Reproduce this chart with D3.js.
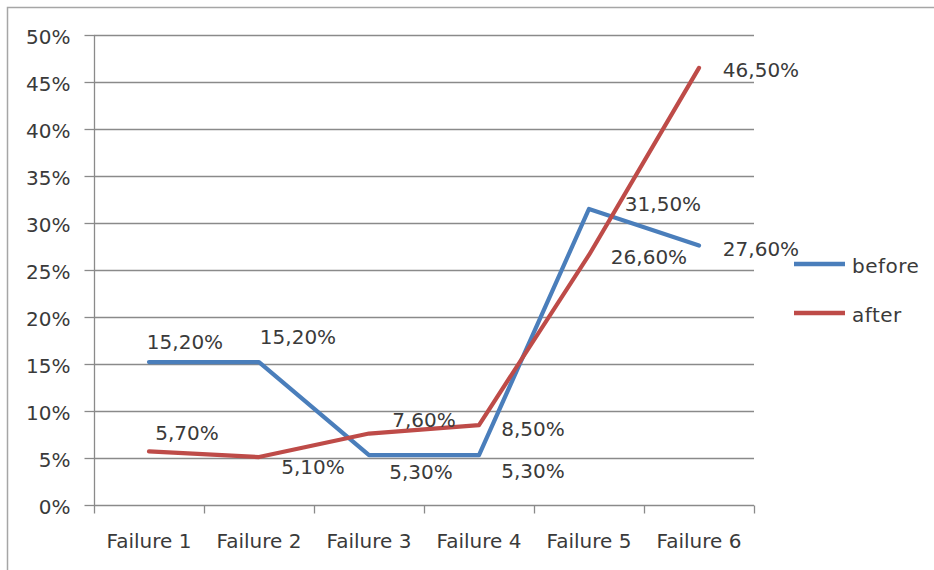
<!DOCTYPE html>
<html>
<head>
<meta charset="utf-8">
<script src="https://cdn.jsdelivr.net/npm/d3@7"></script>
<style>
  html, body { margin: 0; padding: 0; background: #fff; }
  svg { display: block; font-family: "DejaVu Sans", sans-serif; }
</style>
</head>
<body>
<svg id="chart" width="934" height="570"></svg>
<script>
// ---- data ----
const categories = ["Failure 1", "Failure 2", "Failure 3", "Failure 4", "Failure 5", "Failure 6"];
const seriesNames = ["before", "after"];
const beforeValues = [0.152, 0.152, 0.053, 0.053, 0.315, 0.276];
const afterValues  = [0.057, 0.051, 0.076, 0.085, 0.266, 0.465];
const yTickValues  = [0, 0.05, 0.10, 0.15, 0.20, 0.25, 0.30, 0.35, 0.40, 0.45, 0.50];

// ---- layout (label offsets, pixels from the point) ----
const beforeLabelDx = [36, 39, 52, 54, 74, 62];
const beforeLabelDy = [-20, -25, 17, 16, -5, 3];
const afterLabelDx  = [38, 54, 55, 54, 60, 62];
const afterLabelDy  = [-19, 10, -14, 4, 2, 2];

const colors = { before: "#4a7ebb", after: "#be4b48" };
const textColor = "#3a3a3a";
const gridColor = "#8a8a8a";
const fontSize = 20;

const svg = d3.select("#chart");

// outer chart frame (only top and left visible)
svg.append("rect")
  .attr("x", 7.5).attr("y", 7.5)
  .attr("width", 960).attr("height", 600)
  .attr("fill", "#fff")
  .attr("stroke", "#a6a6a6").attr("stroke-width", 1.5);

const x = d3.scaleBand().domain(categories).range([94, 754]).padding(0);
const y = d3.scaleLinear().domain([0, 0.5]).range([505, 35]);

const fmtAxis = d => Math.round(d * 100) + "%";
const fmtLabel = d => (d * 100).toFixed(2).replace(".", ",") + "%";

// gridlines
svg.append("g")
  .selectAll("line")
  .data(yTickValues.filter(v => v > 0))
  .join("line")
  .attr("x1", 94).attr("x2", 754)
  .attr("y1", d => Math.round(y(d)) + 0.5)
  .attr("y2", d => Math.round(y(d)) + 0.5)
  .attr("stroke", gridColor).attr("stroke-width", 1.3);

// y axis
const yAxis = svg.append("g")
  .attr("transform", "translate(94.5,0)")
  .call(d3.axisLeft(y).tickValues(yTickValues).tickSize(10).tickPadding(14).tickFormat(fmtAxis));
yAxis.select(".domain").attr("stroke", gridColor).attr("stroke-width", 1.3).attr("d", `M0,${y(0.5)}V${y(0)}`);
yAxis.selectAll(".tick line").attr("stroke", gridColor).attr("stroke-width", 1.3);
yAxis.selectAll(".tick")
  .attr("transform", d => `translate(0,${Math.round(y(d)) + 0.5})`);
yAxis.selectAll(".tick text")
  .attr("fill", textColor).attr("font-size", fontSize)
  .attr("font-family", "DejaVu Sans").attr("dy", "0.42em");

// x axis: labels at band centres
const xAxis = svg.append("g")
  .attr("transform", "translate(0,505.5)")
  .call(d3.axisBottom(x).tickSize(0).tickPadding(28));
xAxis.select(".domain").attr("stroke", gridColor).attr("stroke-width", 1.3).attr("d", "M94,0H754");
xAxis.selectAll(".tick text")
  .attr("fill", textColor).attr("font-size", fontSize).attr("font-family", "DejaVu Sans");

// x tick marks at band boundaries
const boundaries = categories.map(c => x(c)).concat([x.range()[1]]);
xAxis.append("g")
  .selectAll("line")
  .data(boundaries)
  .join("line")
  .attr("x1", d => Math.round(d) + 0.5).attr("x2", d => Math.round(d) + 0.5)
  .attr("y1", 0).attr("y2", 8)
  .attr("stroke", gridColor).attr("stroke-width", 1.3);

// series
const series = [
  { name: "before", values: beforeValues, dx: beforeLabelDx, dy: beforeLabelDy },
  { name: "after",  values: afterValues,  dx: afterLabelDx,  dy: afterLabelDy }
];

const line = d3.line()
  .x((d, i) => x(categories[i]) + x.bandwidth() / 2)
  .y(d => y(d));

series.forEach(s => {
  svg.append("path")
    .datum(s.values)
    .attr("d", line)
    .attr("fill", "none")
    .attr("stroke", colors[s.name])
    .attr("stroke-width", 4.2)
    .attr("stroke-linejoin", "round")
    .attr("stroke-linecap", "round");
});

series.forEach(s => {
  svg.append("g")
    .selectAll("text")
    .data(s.values)
    .join("text")
    .attr("x", (d, i) => x(categories[i]) + x.bandwidth() / 2 + s.dx[i])
    .attr("y", (d, i) => y(d) + s.dy[i])
    .attr("dy", "0.36em")
    .attr("text-anchor", "middle")
    .attr("fill", textColor)
    .attr("font-size", fontSize)
    .text(d => fmtLabel(d));
});

// legend
const legend = svg.append("g");
seriesNames.forEach((name, i) => {
  const ly = 264 + i * 49;
  legend.append("line")
    .attr("x1", 794).attr("x2", 845)
    .attr("y1", ly).attr("y2", ly)
    .attr("stroke", colors[name]).attr("stroke-width", 4.5);
  legend.append("text")
    .attr("x", 852).attr("y", ly + 2)
    .attr("dy", "0.36em")
    .attr("fill", textColor)
    .attr("font-size", fontSize)
    .attr("letter-spacing", 0.5)
    .text(name);
});
</script>
</body>
</html>
